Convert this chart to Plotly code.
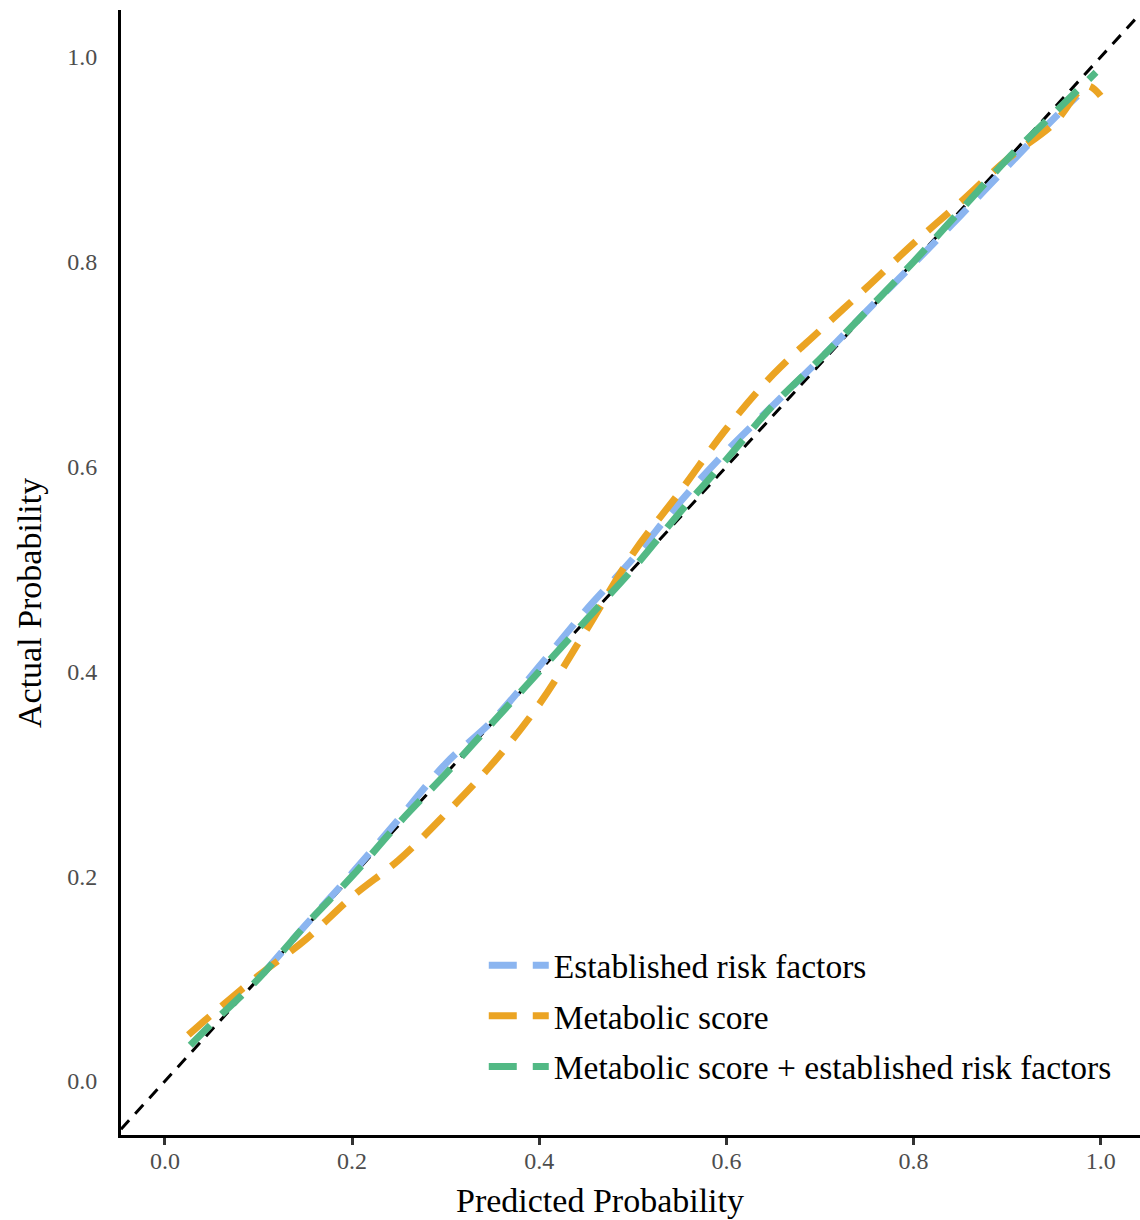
import plotly.graph_objects as go

# Established risk factors
est_x = [0.105, 0.15, 0.2, 0.25, 0.3, 0.35, 0.4, 0.45, 0.5, 0.55, 0.6, 0.65, 0.7, 0.75, 0.8, 0.85, 0.9, 0.95, 0.975]
est_y = [0.105, 0.152, 0.203, 0.256, 0.31, 0.352, 0.405, 0.46, 0.51, 0.565, 0.615, 0.66, 0.705, 0.752, 0.798, 0.845, 0.893, 0.94, 0.962]

# Metabolic score
met_x = [0.025, 0.05, 0.1, 0.15, 0.2, 0.25, 0.3, 0.35, 0.4, 0.45, 0.5, 0.55, 0.6, 0.65, 0.7, 0.75, 0.8, 0.85, 0.9, 0.95, 0.985, 1.0]
met_y = [0.045, 0.065, 0.103, 0.138, 0.18, 0.216, 0.261, 0.31, 0.368, 0.44, 0.515, 0.575, 0.637, 0.69, 0.733, 0.775, 0.818, 0.858, 0.9, 0.935, 0.972, 0.962]

# Metabolic score + established risk factors
comb_x = [0.027, 0.05, 0.1, 0.15, 0.2, 0.25, 0.3, 0.35, 0.4, 0.45, 0.5, 0.55, 0.6, 0.65, 0.7, 0.75, 0.8, 0.85, 0.9, 0.95, 0.995]
comb_y = [0.035, 0.056, 0.1, 0.152, 0.2, 0.252, 0.3, 0.35, 0.4, 0.45, 0.5, 0.555, 0.607, 0.66, 0.705, 0.752, 0.8, 0.85, 0.9, 0.945, 0.985]

names = ["Established risk factors", "Metabolic score", "Metabolic score + established risk factors"]
colors = ["#8BB5F0", "#EBA423", "#52B985"]

tick_vals = [0, 0.2, 0.4, 0.6, 0.8, 1.0]
tick_text = ["0.0", "0.2", "0.4", "0.6", "0.8", "1.0"]

x_title = "Predicted Probability"
y_title = "Actual Probability"

x_range = [-0.047, 1.042]
y_range = [-0.0527, 1.0459]

FONT = "Liberation Serif"

fig = go.Figure()

# reference diagonal y = x
fig.add_trace(go.Scatter(x=x_range, y=x_range, mode="lines",
                         line=dict(color="black", width=3, dash="12px,9px"),
                         showlegend=False, hoverinfo="skip"))

for i, (xs, ys) in enumerate([(est_x, est_y), (met_x, met_y), (comb_x, comb_y)]):
    fig.add_trace(go.Scatter(x=xs, y=ys, mode="lines", name=names[i],
                             legendgroup=f"g{i}",
                             line=dict(color=colors[i], width=7, dash="28px,16px", shape="spline")))

fig.update_layout(
    width=1140, height=1220,
    margin=dict(l=121, r=0, t=10, b=85, autoexpand=False),
    plot_bgcolor="white", paper_bgcolor="white",
    font=dict(family=FONT, color="black"),
    showlegend=True,
    legend=dict(x=0.356, y=0.176, xanchor="left", yanchor="top",
                font=dict(size=33.5, family=FONT, color="black"),
                bgcolor="rgba(0,0,0,0)", tracegroupgap=4, itemwidth=60),
    xaxis=dict(range=x_range, tickvals=tick_vals, ticktext=tick_text,
               showgrid=False, zeroline=False, showline=True, linecolor="black", linewidth=3,
               ticks="outside", ticklen=7, tickwidth=2.5, tickcolor="#333333",
               ticklabelstandoff=-5,
               tickfont=dict(size=24, color="#4D4D4D", family=FONT),
               automargin=False),
    yaxis=dict(range=y_range, tickvals=tick_vals, ticktext=tick_text,
               showgrid=False, zeroline=False, showline=True, linecolor="black", linewidth=3,
               ticks="", ticklabelstandoff=16,
               tickfont=dict(size=24, color="#4D4D4D", family=FONT),
               automargin=False),
    annotations=[
        dict(text=x_title, xref="paper", yref="paper", x=0.470, y=-0.0578,
             xanchor="center", yanchor="middle", showarrow=False,
             font=dict(size=34, family=FONT, color="black")),
        dict(text=y_title, xref="paper", yref="paper", x=-0.0893, y=0.4729,
             xanchor="center", yanchor="middle", showarrow=False, textangle=-90,
             font=dict(size=34, family=FONT, color="black")),
    ],
)

fig.write_html("out.html",
               config={"displayModeBar": False},
               post_script="document.body.style.margin='0';document.body.style.overflow='hidden';"
                           "document.documentElement.style.overflow='hidden';")
